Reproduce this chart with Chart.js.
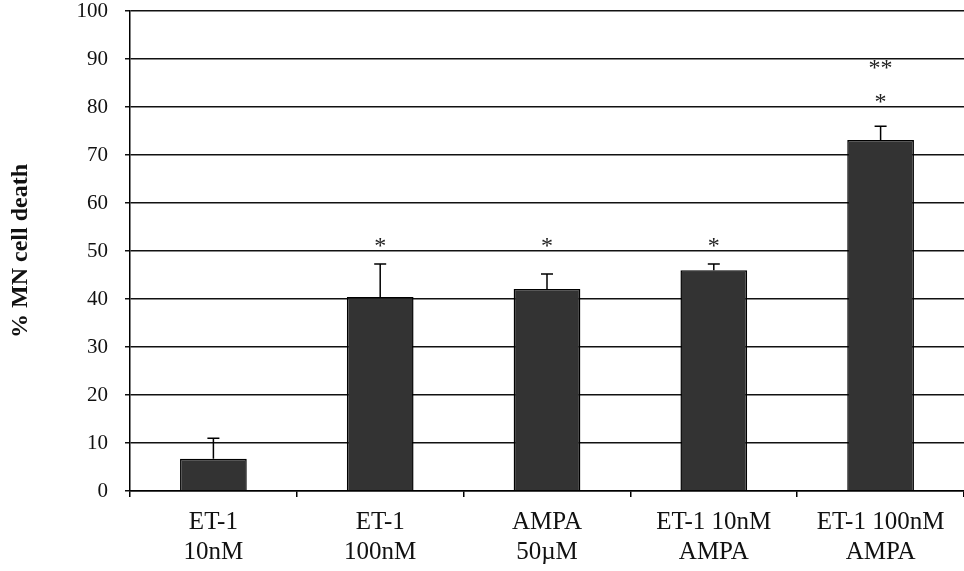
<!DOCTYPE html>
<html>
<head>
<meta charset="utf-8">
<script src="https://cdn.jsdelivr.net/npm/chart.js@4"></script>
<style>
  html, body { margin: 0; padding: 0; background: #fff; }
  #wrap { width: 964px; height: 571px; }
</style>
</head>
<body>
<div id="wrap"><canvas id="deathChart"></canvas></div>
<script>
// values
const categories = [
  ["ET-1", "10nM"],
  ["ET-1", "100nM"],
  ["AMPA", "50\u00b5M"],
  ["ET-1 10nM", "AMPA"],
  ["ET-1 100nM", "AMPA"],
];
const cellDeath = [6.7, 40.4, 42.1, 46.0, 73.1];
const cellDeathErr = [4.3, 6.9, 3.1, 1.3, 2.9];
// significance marks: text and the y value they sit at
const sigMarks = [[], ["*"], ["*"], ["*"], ["*", "**"]];
const sigLevels = [[], [52], [52], [52], [82, 89]];
const yTicks = [0, 10, 20, 30, 40, 50, 60, 70, 80, 90, 100];

const serif = "'Liberation Serif', 'Times New Roman', serif";

// draws the upward error bars and the asterisks
const extrasPlugin = {
  id: "extras",
  afterDatasetsDraw(chart) {
    const { ctx, scales } = chart;
    const meta = chart.getDatasetMeta(0);
    ctx.save();
    ctx.strokeStyle = "#000";
    ctx.lineWidth = 1.5;
    meta.data.forEach((bar, i) => {
      const yTop = scales.y.getPixelForValue(cellDeath[i] + cellDeathErr[i]);
      ctx.beginPath();
      ctx.moveTo(bar.x, bar.y);
      ctx.lineTo(bar.x, yTop);
      ctx.moveTo(bar.x - 6, yTop);
      ctx.lineTo(bar.x + 6, yTop);
      ctx.stroke();
    });
    ctx.fillStyle = "#222";
    ctx.font = "24px " + serif;
    ctx.textAlign = "center";
    ctx.textBaseline = "middle";
    meta.data.forEach((bar, i) => {
      sigMarks[i].forEach((mark, j) => {
        ctx.fillText(mark, bar.x, scales.y.getPixelForValue(sigLevels[i][j]) + 5);
      });
    });
    ctx.restore();
  },
};

const ctx = document.getElementById("deathChart").getContext("2d");

const deathChart = new Chart(ctx, {
  type: "bar",
  data: {
    labels: categories,
    datasets: [
      {
        data: cellDeath,
        backgroundColor: "#333333",
        borderColor: "#000",
        borderWidth: 1.5,
        categoryPercentage: 0.8,
        barPercentage: 0.5,
      },
    ],
  },
  options: {
    responsive: true,
    maintainAspectRatio: false,
    animation: false,
    layout: { padding: { top: 11, right: 0, bottom: 0, left: 0 } },
    plugins: {
      legend: { display: false },
      tooltip: { enabled: false },
    },
    scales: {
      x: {
        afterFit: (scale) => {
          scale.height = 80;
          scale.paddingLeft = 0;
          scale.paddingRight = 0;
        },
        grid: {
          drawOnChartArea: false,
          drawTicks: true,
          tickLength: 6,
          color: "#000",
          lineWidth: 1.5,
        },
        border: { display: true, color: "#000", width: 1.5 },
        ticks: {
          color: "#111",
          padding: 10,
          maxRotation: 0,
          autoSkip: false,
          font: { family: serif, size: 25, lineHeight: 1.2 },
        },
      },
      y: {
        min: 0,
        max: 100,
        afterFit: (scale) => {
          scale.width = 130;
          scale.paddingTop = 0;
          scale.paddingBottom = 0;
        },
        afterBuildTicks: (scale) => {
          scale.ticks = yTicks.map((v) => ({ value: v }));
        },
        grid: {
          color: "#111",
          lineWidth: 1.5,
          drawTicks: true,
          tickLength: 5,
        },
        border: { display: true, color: "#000", width: 1.5 },
        ticks: {
          color: "#111",
          padding: 17,
          font: { family: serif, size: 21, lineHeight: 1.05 },
        },
        title: {
          display: true,
          text: "% MN cell death",
          color: "#111",
          padding: { top: 6, bottom: 0 },
          font: { family: serif, size: 24, weight: "bold", lineHeight: 1.2 },
        },
      },
    },
  },
  plugins: [extrasPlugin],
});
</script>
</body>
</html>
